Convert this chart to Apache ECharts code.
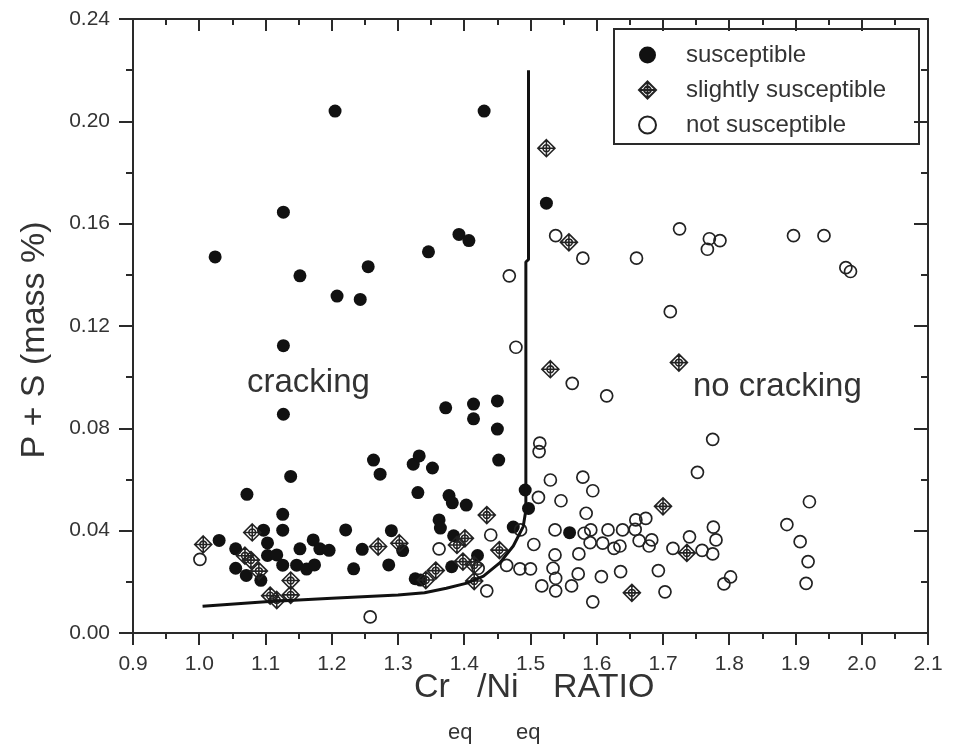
<!DOCTYPE html>
<html>
<head>
<meta charset="utf-8">
<script src="https://cdn.jsdelivr.net/npm/echarts@6/dist/echarts.min.js"></script>
<style>
  html, body { margin: 0; padding: 0; background: #fff; }
  #chart { width: 955px; height: 746px; }
</style>
</head>
<body>
<div id="chart"></div>
<script>
// ---------- data ----------
var seriesNames = ['susceptible', 'slightly susceptible', 'not susceptible'];

var susceptible = [
  [1.205,0.204],[1.430,0.204],[1.127,0.1645],[1.024,0.147],[1.152,0.1396],[1.208,0.1317],
  [1.243,0.1304],[1.255,0.1432],[1.346,0.149],[1.392,0.1558],[1.407,0.1534],[1.524,0.168],
  [1.127,0.1123],[1.127,0.0855],[1.138,0.0612],[1.072,0.0542],[1.126,0.0464],[1.126,0.0402],
  [1.097,0.0402],[1.221,0.0403],[1.290,0.0400],[1.030,0.0362],[1.103,0.0352],[1.172,0.0364],
  [1.055,0.0329],[1.152,0.0329],[1.182,0.0329],[1.196,0.0323],[1.246,0.0327],[1.307,0.0322],
  [1.103,0.0303],[1.117,0.0305],[1.055,0.0253],[1.126,0.0265],[1.147,0.0265],[1.162,0.0250],
  [1.174,0.0266],[1.233,0.0251],[1.286,0.0266],[1.071,0.0225],[1.093,0.0206],
  [1.372,0.0880],[1.414,0.0895],[1.414,0.0837],[1.450,0.0907],[1.450,0.0797],[1.452,0.0676],
  [1.263,0.0676],[1.273,0.0621],[1.323,0.0660],[1.332,0.0692],[1.352,0.0645],[1.330,0.0549],
  [1.377,0.0537],[1.382,0.0509],[1.403,0.0500],[1.362,0.0442],[1.364,0.0410],[1.384,0.0380],
  [1.474,0.0414],[1.420,0.0303],[1.381,0.0259],[1.326,0.0212],[1.334,0.0207],[1.492,0.0559],
  [1.497,0.0487],[1.559,0.0392]
];

var slightlySusceptible = [
  [1.524,0.1895],[1.558,0.1527],[1.530,0.1031],[1.724,0.1057],[1.700,0.0495],[1.736,0.0313],
  [1.653,0.0157],[1.006,0.0346],[1.080,0.0393],[1.069,0.0302],[1.078,0.0285],[1.090,0.0242],
  [1.107,0.0146],[1.117,0.0129],[1.138,0.0205],[1.138,0.0149],[1.270,0.0338],[1.302,0.0351],
  [1.434,0.0461],[1.389,0.0344],[1.401,0.0370],[1.453,0.0324],[1.398,0.0279],[1.415,0.0266],
  [1.357,0.0244],[1.342,0.0207],[1.415,0.0203]
];

var notSusceptible = [
  [1.468,0.1396],[1.538,0.1553],[1.579,0.1465],[1.660,0.1465],[1.725,0.1580],[1.770,0.1541],
  [1.767,0.1500],[1.786,0.1534],[1.897,0.1553],[1.943,0.1553],[1.976,0.1428],[1.983,0.1413],
  [1.711,0.1256],[1.478,0.1117],[1.563,0.0976],[1.615,0.0927],[1.514,0.0742],[1.513,0.0709],
  [1.530,0.0598],[1.579,0.0609],[1.594,0.0556],[1.512,0.0530],[1.546,0.0517],[1.584,0.0468],
  [1.485,0.0403],[1.537,0.0403],[1.581,0.0390],[1.591,0.0403],[1.617,0.0403],[1.639,0.0403],
  [1.659,0.0442],[1.674,0.0448],[1.658,0.0405],[1.505,0.0346],[1.590,0.0353],[1.609,0.0351],
  [1.626,0.0331],[1.635,0.0340],[1.664,0.0361],[1.683,0.0364],[1.679,0.0340],[1.715,0.0331],
  [1.740,0.0376],[1.537,0.0305],[1.573,0.0309],[1.464,0.0264],[1.484,0.0251],[1.500,0.0251],
  [1.534,0.0253],[1.538,0.0214],[1.538,0.0165],[1.517,0.0184],[1.572,0.0231],[1.562,0.0184],
  [1.607,0.0220],[1.636,0.0240],[1.693,0.0244],[1.703,0.0161],[1.594,0.0122],
  [1.752,0.0628],[1.775,0.0757],[1.776,0.0414],[1.780,0.0364],[1.775,0.0309],[1.759,0.0323],
  [1.802,0.0219],[1.792,0.0192],[1.887,0.0424],[1.921,0.0513],[1.907,0.0357],[1.919,0.0279],
  [1.916,0.0194],[1.001,0.0288],[1.258,0.0063],[1.362,0.0329],[1.440,0.0383],[1.421,0.0253],
  [1.434,0.0165]
];

// boundary curve
var boundaryX = [1.005,1.100,1.200,1.300,1.340,1.373,1.404,1.429,1.454,1.474,1.489,1.493,1.493,1.497,1.497];
var boundaryY = [0.0105,0.0122,0.0136,0.0149,0.0157,0.0175,0.0195,0.0222,0.0275,0.0340,0.0416,0.0480,0.1450,0.1460,0.2200];

var xTicks = { min: 0.9, max: 2.1, step: 0.1 };
var yTicks = { min: 0.0, max: 0.24, step: 0.04 };

// ---------- chart ----------
var boundary = boundaryX.map(function (x, i) { return [x, boundaryY[i]]; });
var FONT = '"Liberation Sans", Arial, Helvetica, sans-serif';
var TXT = '#333';
var AX = '#2a2a2a';
var slightSymbol = 'path://M10,0 L20,10 L10,20 L0,10 Z M10,0 L10,20 M0,10 L20,10 M14,10 A4,4 0 1 1 6,10 A4,4 0 1 1 14,10 Z';

var chart = echarts.init(document.getElementById('chart'), null, { renderer: 'canvas' });

function axisBase(pos, showLabel, inside, isX) {
  return {
    type: 'value',
    position: pos,
    min: isX ? xTicks.min : yTicks.min,
    max: isX ? xTicks.max : yTicks.max,
    interval: isX ? xTicks.step : yTicks.step,
    splitLine: { show: false },
    axisLine: { show: true, onZero: false, lineStyle: { color: AX, width: 2 } },
    axisTick: { show: true, inside: inside, length: isX ? 12 : 14, lineStyle: { color: AX, width: 2 } },
    minorTick: { show: true, splitNumber: 2, length: isX ? 6 : 7, lineStyle: { color: AX, width: 2 } },
    axisLabel: {
      show: showLabel,
      margin: isX ? 21 : 23,
      color: TXT,
      fontFamily: FONT,
      fontSize: 21,
      formatter: function (v) { return isX ? v.toFixed(1) : v.toFixed(2); }
    }
  };
}

var option = {
  backgroundColor: '#fff',
  animation: false,
  grid: { left: 133, right: 27, top: 19, bottom: 113, containLabel: false },
  xAxis: [axisBase('bottom', true, false, true), axisBase('top', false, true, true)],
  yAxis: [axisBase('left', true, false, false), axisBase('right', false, true, false)],
  legend: {
    orient: 'vertical',
    left: 638,
    top: 43,
    padding: 0,
    itemWidth: 17,
    itemHeight: 17,
    itemGap: 11,
    data: seriesNames,
    textStyle: { color: TXT, fontFamily: FONT, fontSize: 24, padding: [0, 0, 0, 25] }
  },
  series: [
    {
      name: seriesNames[0], type: 'scatter', data: susceptible,
      symbol: 'circle', symbolSize: 13,
      itemStyle: { color: '#111', opacity: 1 }
    },
    {
      name: seriesNames[1], type: 'scatter', data: slightlySusceptible,
      symbol: slightSymbol, symbolSize: 17,
      itemStyle: { color: 'rgba(255,255,255,0)', borderColor: '#222', borderWidth: 1.6, opacity: 1 }
    },
    {
      name: seriesNames[2], type: 'scatter', data: notSusceptible,
      symbol: 'circle', symbolSize: 12,
      itemStyle: { color: 'rgba(255,255,255,0)', borderColor: '#222', borderWidth: 1.7, opacity: 1 }
    },
    {
      name: 'boundary', type: 'line', data: boundary,
      showSymbol: false, symbol: 'none', smooth: false, z: 5,
      lineStyle: { color: '#111', width: 3 }
    }
  ],
  graphic: [
    { type: 'rect', shape: { x: 614, y: 29, width: 305, height: 115 },
      style: { fill: 'none', stroke: AX, lineWidth: 2 }, z: 10 },
    { type: 'text', x: 247, y: 383,
      style: { text: 'cracking', font: '33px ' + FONT, fill: TXT, align: 'left', verticalAlign: 'middle' } },
    { type: 'text', x: 693, y: 387,
      style: { text: 'no cracking', font: '33px ' + FONT, fill: TXT, align: 'left', verticalAlign: 'middle' } },
    { type: 'text', x: 35, y: 340, rotation: Math.PI / 2,
      style: { text: 'P + S (mass %)', font: '34px ' + FONT, fill: TXT, align: 'center', verticalAlign: 'middle' } },
    { type: 'text', x: 414, y: 688,
      style: { text: 'Cr', font: '34px ' + FONT, fill: TXT, align: 'left', verticalAlign: 'middle' } },
    { type: 'text', x: 448, y: 733,
      style: { text: 'eq', font: '22px ' + FONT, fill: TXT, align: 'left', verticalAlign: 'middle' } },
    { type: 'text', x: 477, y: 688,
      style: { text: '/Ni', font: '34px ' + FONT, fill: TXT, align: 'left', verticalAlign: 'middle' } },
    { type: 'text', x: 516, y: 733,
      style: { text: 'eq', font: '22px ' + FONT, fill: TXT, align: 'left', verticalAlign: 'middle' } },
    { type: 'text', x: 553, y: 688,
      style: { text: 'RATIO', font: '34px ' + FONT, fill: TXT, align: 'left', verticalAlign: 'middle' } }
  ]
};
chart.setOption(option);
</script>
</body>
</html>
